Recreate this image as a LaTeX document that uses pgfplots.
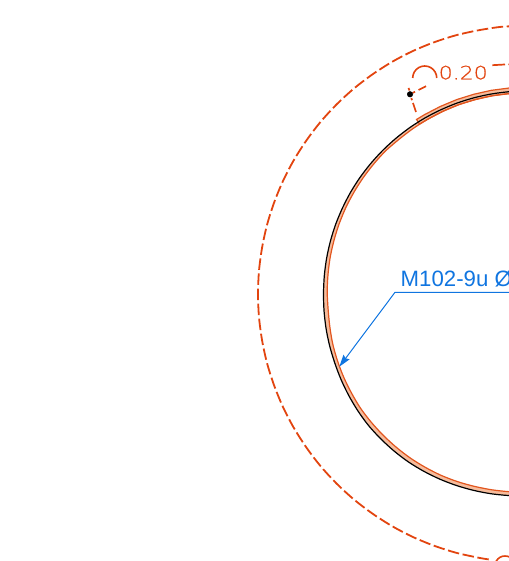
\documentclass[border=0pt]{standalone}
\usepackage{fontspec}
\setmainfont{Liberation Sans}
\newfontfamily\thinfont[FakeBold=0.6]{DejaVu Sans ExtraLight}
\usepackage{pgfplots}
\pgfplotsset{compat=1.18}
\usetikzlibrary{arrows.meta}
\definecolor{dashred}{HTML}{E2440F}
\definecolor{ringor}{HTML}{E2561F}
\definecolor{ringlt}{HTML}{F6BC9C}
\definecolor{leader}{HTML}{1075E0}
\begin{document}
\begin{tikzpicture}[x=1bp,y=1bp]
\path[use as bounding box,clip] (0,0) rectangle (509,561);
\begin{axis}[at={(0,0)},anchor=south west,scale only axis,width=509bp,height=561bp,
  xmin=0,xmax=509,ymin=0,ymax=561,y dir=reverse,hide axis,clip=true]
% light band between black circle and inner ring
\addplot[draw=none,fill=ringlt,forget plot] coordinates {
(526,91)(508.3,91.8)(490.8,94.1)(473.6,97.9)(456.7,103.2)(440.4,110.0)(424.7,118.1)(409.8,127.6)(395.8,138.4)(382.8,150.3)(370.9,163.3)(360.1,177.3)(350.6,192.2)(342.5,207.9)(335.7,224.2)(330.4,241.1)(326.6,258.3)(324.3,275.8)(323.5,293.5)(324.05,311.2)(326.1,328.8)(329.7,346.1)(334.8,363.1)(341.1,379.7)(348.9,395.8)(358.05,411.15)(368.6,425.6)(380.7,438.8)(393.9,450.9)(408.2,461.8)(423.45,471.1)(439.5,479)(456.1,485.4)(473.3,490.3)(490.66,493.7)(508.3,495.5)(526,496)
(526.75,492.25)(509.35,491.7)(491.85,489.8)(474.55,486.4)(457.7,481.7)(441.2,475.4)(425.4,467.4)(410.4,458.1)(396.3,447.3)(383.2,435.3)(371.3,422.3)(360.5,408.2)(351.5,393.05)(343.7,377.2)(337.45,360.75)(332.7,343.8)(329.8,326.6)(328.1,309.1)(327.2,291.75)(328,274.5)(330.2,257.2)(334,240.3)(339.2,223.7)(345.8,207.7)(353.9,192.3)(363.2,177.7)(373.8,163.9)(385.4,151.1)(398.9,139.4)(412.7,128.8)(427.3,119.5)(442.7,111.4)(458.7,104.7)(475.2,99.6)(492.2,95.8)(509.5,93.6)(526.75,92.75)
} -- cycle;
% upper band
\addplot[draw=ringor,line width=1.2bp,fill=ringlt,forget plot] coordinates {
(416.55,119.45)(424.5,114.65)(440.35,106.45)(456.85,99.55)(473.85,94.25)(491.25,90.35)(508.95,88.05)(526.75,87.25)
(526.75,92.75)(509.5,93.6)(492.2,95.8)(475.2,99.6)(458.7,104.7)(442.7,111.4)(427.3,119.5)(419.55,124.05)
} -- cycle;
% inner ring line
\addplot[ringor,line width=1.2bp,smooth] coordinates {
(526.75,92.75)(509.5,93.6)(492.2,95.8)(475.2,99.6)(458.7,104.7)(442.7,111.4)(427.3,119.5)(412.7,128.8)(398.9,139.4)(385.4,151.1)(373.8,163.9)(363.2,177.7)(353.9,192.3)(345.8,207.7)(339.2,223.7)(334,240.3)(330.2,257.2)(328,274.5)(327.2,291.75)(328.1,309.1)(329.8,326.6)(332.7,343.8)(337.45,360.75)(343.7,377.2)(351.5,393.05)(360.5,408.2)(371.3,422.3)(383.2,435.3)(396.3,447.3)(410.4,458.1)(425.4,467.4)(441.2,475.4)(457.7,481.7)(474.55,486.4)(491.85,489.8)(509.35,491.7)(526.75,492.25)
};
% black circle
\addplot[black,line width=1.2bp,smooth] coordinates {
(526,91)(508.3,91.8)(490.8,94.1)(473.6,97.9)(456.7,103.2)(440.4,110.0)(424.7,118.1)(409.8,127.6)(395.8,138.4)(382.8,150.3)(370.9,163.3)(360.1,177.3)(350.6,192.2)(342.5,207.9)(335.7,224.2)(330.4,241.1)(326.6,258.3)(324.3,275.8)(323.5,293.5)(324.05,311.2)(326.1,328.8)(329.7,346.1)(334.8,363.1)(341.1,379.7)(348.9,395.8)(358.05,411.15)(368.6,425.6)(380.7,438.8)(393.9,450.9)(408.2,461.8)(423.45,471.1)(439.5,479)(456.1,485.4)(473.3,490.3)(490.66,493.7)(508.3,495.5)(526,496)
};
% dashed outer circle
\addplot[dashred,line width=1.8bp,smooth,dash pattern=on 11.5bp off 3.6bp] coordinates {
(488.7,559.4)(479.5,557.9)(456.6,552.9)(434.3,545.8)(412.7,536.9)(392.0,526.1)(372.3,513.5)(353.7,499.3)(336.5,483.5)(320.7,466.3)(306.5,447.7)(293.9,428.0)(283.1,407.3)(274.2,385.7)(267.1,363.4)(262.1,340.5)(259.0,317.4)(258.0,294.0)(259.0,270.6)(262.1,247.5)(267.1,224.6)(274.2,202.3)(283.1,180.7)(293.9,160.0)(306.5,140.3)(320.7,121.7)(336.5,104.5)(353.7,88.7)(372.3,74.5)(392.0,61.9)(412.7,51.1)(434.3,42.2)(456.6,35.1)(479.5,30.1)(502.6,26.7)(526,26)
};
% dimension line pieces
\addplot[dashred,line width=1.7bp] coordinates {(408.5,88)(409.5,90.5)};
\addplot[dashred,line width=1.7bp] coordinates {(411.3,98)(412,100.2)};
\addplot[dashred,line width=1.7bp] coordinates {(413,103)(416,112)};
\addplot[dashred,line width=1.7bp] coordinates {(412.5,93)(415,91.7)};
\addplot[dashred,line width=1.7bp] coordinates {(418.5,90)(426,86.2)};
\addplot[dashred,line width=1.7bp] coordinates {(492.3,65.2)(505,64.5)};
\addplot[dashred,line width=1.7bp] coordinates {(508.3,64.4)(511,64.3)};
% arc symbols
\addplot[dashred,line width=1.6bp,smooth] coordinates {(412.7,78)(413.1,74.9)(414.3,72)(416.2,69.5)(418.7,67.6)(421.6,66.4)(424.7,66)(427.8,66.4)(430.7,67.6)(433.2,69.5)(435.1,72)(436.3,74.9)(436.7,78)};
\addplot[dashred,line width=1.6bp,smooth] coordinates {(495,566)(495.3,563.4)(496.3,561)(497.9,558.9)(500,557.3)(502.4,556.3)(505,556)(507.6,556.3)(510,557.3)};
% dot
\addplot[only marks,mark=*,mark size=2.8bp,black] coordinates {(410,94.3)};
% leader
\addplot[leader,line width=1bp,-{Stealth[length=12bp,width=7.5bp,inset=1.5bp]}] coordinates {(515,292.3)(395,292.3)(339.3,366.7)};
\node[anchor=base west,inner sep=0pt,text=leader,font=\fontsize{22.3}{24}\selectfont] at (axis cs:400.5,286.8) {M102-9u Ø};
\node[anchor=base west,inner sep=0pt,text=dashred,xscale=1.2,font=\thinfont\fontsize{18.4}{20}\selectfont] at (axis cs:438.5,79.3) {0.20};
\end{axis}
\end{tikzpicture}
\end{document}
